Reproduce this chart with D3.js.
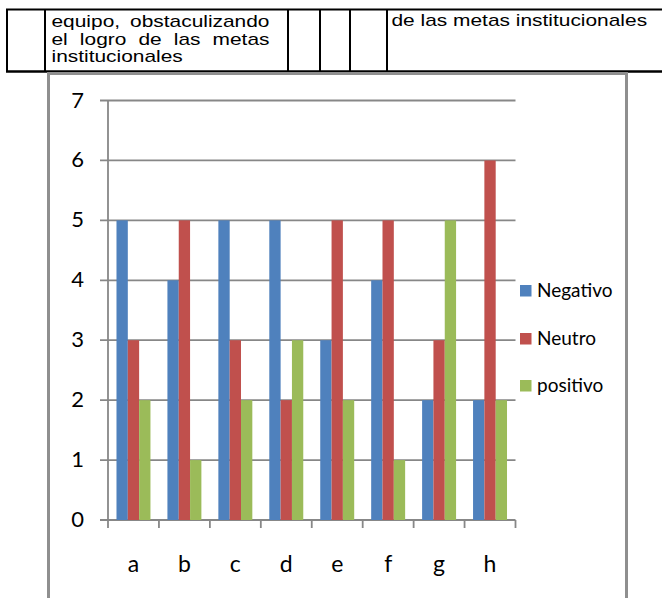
<!DOCTYPE html>
<html>
<head>
<meta charset="utf-8">
<script src="https://cdn.jsdelivr.net/npm/d3@7"></script>
<style>
  html, body { margin: 0; padding: 0; background: #fff; }
  svg { display: block; }
</style>
</head>
<body>
<svg id="chart" width="662" height="598"></svg>
<script>
// Categories and series values
const categories = ["a", "b", "c", "d", "e", "f", "g", "h"];
const seriesNames = ["Negativo", "Neutro", "positivo"];
const negativo = [5, 4, 5, 5, 3, 4, 2, 2];
const neutro   = [3, 5, 3, 2, 5, 5, 3, 6];
const positivo = [2, 1, 2, 3, 2, 1, 5, 2];
const yTicks = [0, 1, 2, 3, 4, 5, 6, 7];
const colors = ["#4F81BD", "#C0504D", "#9BBB59"];

// Table row text above the chart
const leftCellLines = ["equipo, obstaculizando", "el logro de las metas", "institucionales"];
const rightCellText = "de las metas institucionales";
const tableColumns = [7, 45, 288, 320, 350, 387];

const svg = d3.select("#chart");

// ---- table row fragment ----
const table = svg.append("g");
table.append("line").attr("x1", 6).attr("x2", 662).attr("y1", 9.5).attr("y2", 9.5)
  .attr("stroke", "#000").attr("stroke-width", 2);
table.append("line").attr("x1", 6).attr("x2", 662).attr("y1", 71.5).attr("y2", 71.5)
  .attr("stroke", "#000").attr("stroke-width", 2.5);
table.selectAll("line.col").data(tableColumns).enter().append("line")
  .attr("class", "col")
  .attr("x1", d => d).attr("x2", d => d)
  .attr("y1", 9).attr("y2", 72)
  .attr("stroke", "#000").attr("stroke-width", 2);

const cellFont = "'Liberation Sans', Arial, sans-serif";
const sx = 1.23; // the cell text is set wide

// one line of cell text; justified lines widen their word gaps to fill the cell
function cellText(x, baseline, str, targetWidth, justify) {
  const g = table.append("g").attr("transform", `translate(${x},${baseline}) scale(${sx},1)`);
  const t = g.append("text")
    .attr("x", 0).attr("y", 0)
    .attr("font-family", cellFont)
    .attr("font-size", 17)
    .attr("fill", "#000")
    .text(str);
  if (justify) {
    const natural = t.node().getComputedTextLength();
    const spaces = (str.match(/ /g) || []).length;
    const target = targetWidth / sx;
    if (spaces > 0 && target > natural) {
      t.attr("word-spacing", (target - natural) / spaces);
    }
  }
  return t;
}
cellText(51.5, 27, leftCellLines[0], 218, true);
cellText(51.5, 44.5, leftCellLines[1], 218, true);
cellText(51.5, 62, leftCellLines[2], 0, false);
cellText(391.5, 25.5, rightCellText, 0, false);

// ---- chart frame ----
svg.append("rect")
  .attr("x", 48.5).attr("y", 73.5)
  .attr("width", 578).attr("height", 560)
  .attr("fill", "none")
  .attr("stroke", "#8f8f8f")
  .attr("stroke-width", 3);

// ---- scales ----
const plot = { left: 108, right: 515.5, top: 100.5, bottom: 520 };
const x = d3.scaleBand().domain(categories).range([plot.left, plot.right]).padding(0);
const y = d3.scaleLinear().domain([0, 7]).range([plot.bottom, plot.top]);

const barW = x.bandwidth() / 4.5;
const groupOffset = (x.bandwidth() - 3 * barW) / 2;
const gridColor = "#878787";
const labelFont = "Lato, 'Open Sans', sans-serif";

// gridlines (including the baseline)
svg.append("g").selectAll("line").data(yTicks).enter().append("line")
  .attr("x1", plot.left - 8).attr("x2", plot.right)
  .attr("y1", d => y(d)).attr("y2", d => y(d))
  .attr("stroke", gridColor).attr("stroke-width", 1.8);

// bars
const series = [negativo, neutro, positivo];
const barsG = svg.append("g");
series.forEach((vals, si) => {
  barsG.selectAll(null).data(vals).enter().append("rect")
    .attr("x", (d, i) => x(categories[i]) + groupOffset + si * barW)
    .attr("y", d => y(d))
    .attr("width", barW)
    .attr("height", d => y(0) - y(d))
    .attr("fill", colors[si]);
});

// y axis line
svg.append("line")
  .attr("x1", plot.left).attr("x2", plot.left)
  .attr("y1", plot.top).attr("y2", plot.bottom)
  .attr("stroke", gridColor).attr("stroke-width", 1.8);

// x axis tick marks at category boundaries
const boundaries = categories.map(c => x(c)).concat([plot.right]);
svg.append("g").selectAll("line").data(boundaries).enter().append("line")
  .attr("x1", d => d).attr("x2", d => d)
  .attr("y1", plot.bottom).attr("y2", plot.bottom + 8)
  .attr("stroke", gridColor).attr("stroke-width", 1.8);

// y tick labels
svg.append("g").selectAll("text").data(yTicks).enter().append("text")
  .attr("x", 84).attr("y", d => y(d) + 7)
  .attr("text-anchor", "end")
  .attr("font-family", labelFont)
  .attr("font-size", 22)
  .attr("fill", "#000")
  .text(d => d);

// category labels
svg.append("g").selectAll("text").data(categories).enter().append("text")
  .attr("x", d => x(d) + x.bandwidth() / 2)
  .attr("y", 572)
  .attr("text-anchor", "middle")
  .attr("font-family", labelFont)
  .attr("font-size", 23)
  .attr("fill", "#000")
  .text(d => d);

// legend
const legend = svg.append("g");
const legendTop = [285, 333, 380];
seriesNames.forEach((name, i) => {
  legend.append("rect")
    .attr("x", 520).attr("y", legendTop[i])
    .attr("width", 11.5).attr("height", 11.5)
    .attr("fill", colors[i]);
  legend.append("text")
    .attr("x", 537).attr("y", legendTop[i] + 12)
    .attr("font-family", labelFont)
    .attr("font-size", 19)
    .attr("fill", "#000")
    .text(name);
});
</script>
</body>
</html>
